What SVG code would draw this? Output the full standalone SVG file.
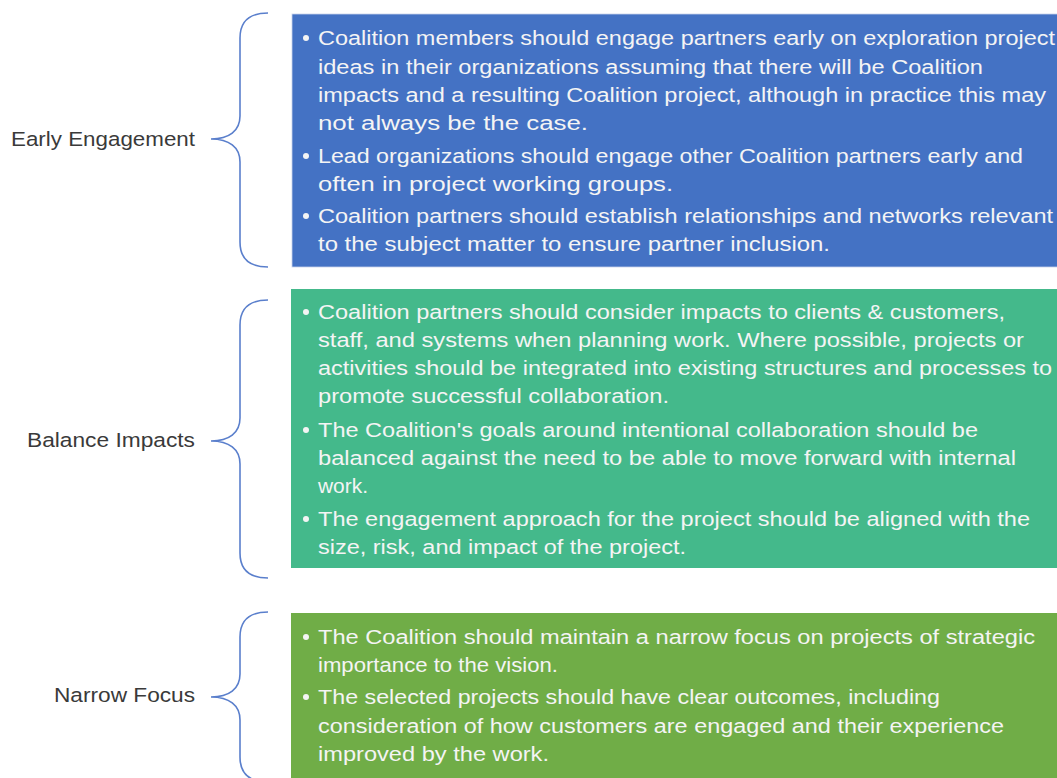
<svg xmlns="http://www.w3.org/2000/svg" width="1057" height="778" viewBox="0 0 1057 778">
<style>
.lbl{font-family:"Liberation Sans",Arial,sans-serif;font-size:20.5px;fill:#3a3a3a}
.t{font-family:"Liberation Sans",Arial,sans-serif;font-size:20px;fill:#f4f4f4}
.brace{fill:none;stroke:#5a7fcc;stroke-width:1.6}
</style>
<defs>
<circle id="b" r="3" fill="#f4f4f4"/>
</defs>
<rect width="1057" height="778" fill="#ffffff"/>
<g id="connectors">
<path class="brace" d="M268,13 C249,13 240,22 240,38 L240,116 C240,131 229,139 211,139 C229,139 240,147 240,162 L240,242 C240,258 249,267 268,267"/>
<path class="brace" d="M268,300 C249,300 240,309 240,325 L240,418 C240,433 229,441 211,441 C229,441 240,449 240,464 L240,553 C240,569 249,578 268,578"/>
<path class="brace" d="M268,612 C249,612 240,621 240,637 L240,674 C240,689 229,697 211,697 C229,697 240,705 240,720 L240,757 C240,773 249,782 268,782"/>
</g>
<g id="early-engagement">
<text class="lbl" x="11" y="146" textLength="184" lengthAdjust="spacingAndGlyphs">Early Engagement</text>
<rect x="292" y="14" width="767" height="253" fill="#4472c4" stroke="#c9d3ea" stroke-width="0.8"/>
<use href="#b" x="306" y="38"/>
<text class="t" x="318" y="45" textLength="737" lengthAdjust="spacingAndGlyphs">Coalition members  should engage partners early on exploration project</text>
<text class="t" x="318" y="74" textLength="665" lengthAdjust="spacingAndGlyphs">ideas in their organizations assuming that there will be Coalition</text>
<text class="t" x="318" y="102" textLength="728" lengthAdjust="spacingAndGlyphs">impacts and a resulting Coalition project, although in practice this may</text>
<text class="t" x="318" y="130" textLength="270" lengthAdjust="spacingAndGlyphs">not always be the case.</text>
<use href="#b" x="306" y="156"/>
<text class="t" x="318" y="163" textLength="705" lengthAdjust="spacingAndGlyphs">Lead organizations should engage other Coalition partners early and</text>
<text class="t" x="318" y="191" textLength="355" lengthAdjust="spacingAndGlyphs">often in project working groups.</text>
<use href="#b" x="306" y="216"/>
<text class="t" x="318" y="223" textLength="735" lengthAdjust="spacingAndGlyphs">Coalition partners should establish relationships and networks relevant</text>
<text class="t" x="318" y="251" textLength="512" lengthAdjust="spacingAndGlyphs">to the subject matter to ensure partner inclusion.</text>
</g>
<g id="balance-impacts">
<text class="lbl" x="27" y="447" textLength="168" lengthAdjust="spacingAndGlyphs">Balance Impacts</text>
<rect x="291" y="289" width="768" height="279" fill="#44b98b"/>
<use href="#b" x="306" y="312"/>
<text class="t" x="318" y="319" textLength="687" lengthAdjust="spacingAndGlyphs">Coalition partners should consider impacts to clients &amp; customers,</text>
<text class="t" x="318" y="347" textLength="706" lengthAdjust="spacingAndGlyphs">staff, and systems when planning work. Where possible, projects or</text>
<text class="t" x="318" y="375" textLength="734" lengthAdjust="spacingAndGlyphs">activities should be integrated into existing structures and processes to</text>
<text class="t" x="318" y="403" textLength="351" lengthAdjust="spacingAndGlyphs">promote  successful collaboration.</text>
<use href="#b" x="306" y="430"/>
<text class="t" x="318" y="437" textLength="660" lengthAdjust="spacingAndGlyphs">The Coalition's goals around intentional collaboration should be</text>
<text class="t" x="318" y="465" textLength="698" lengthAdjust="spacingAndGlyphs">balanced against the need to be able to move forward with internal</text>
<text class="t" x="318" y="493" textLength="50" lengthAdjust="spacingAndGlyphs">work.</text>
<use href="#b" x="306" y="519"/>
<text class="t" x="318" y="526" textLength="712" lengthAdjust="spacingAndGlyphs">The engagement approach for the project should be aligned with the</text>
<text class="t" x="318" y="554" textLength="368" lengthAdjust="spacingAndGlyphs">size, risk, and impact of the project.</text>
</g>
<g id="narrow-focus">
<text class="lbl" x="54" y="702" textLength="141" lengthAdjust="spacingAndGlyphs">Narrow Focus</text>
<rect x="291" y="613" width="768" height="170" fill="#70ad47"/>
<use href="#b" x="306" y="637"/>
<text class="t" x="318" y="644" textLength="717" lengthAdjust="spacingAndGlyphs">The Coalition should maintain a narrow focus on projects of strategic</text>
<text class="t" x="318" y="672" textLength="240" lengthAdjust="spacingAndGlyphs">importance to the vision.</text>
<use href="#b" x="306" y="697"/>
<text class="t" x="318" y="704" textLength="622" lengthAdjust="spacingAndGlyphs">The selected projects should have clear outcomes, including</text>
<text class="t" x="318" y="733" textLength="686" lengthAdjust="spacingAndGlyphs">consideration of how customers are engaged and their experience</text>
<text class="t" x="318" y="761" textLength="231" lengthAdjust="spacingAndGlyphs">improved  by the work.</text>
</g>
</svg>
